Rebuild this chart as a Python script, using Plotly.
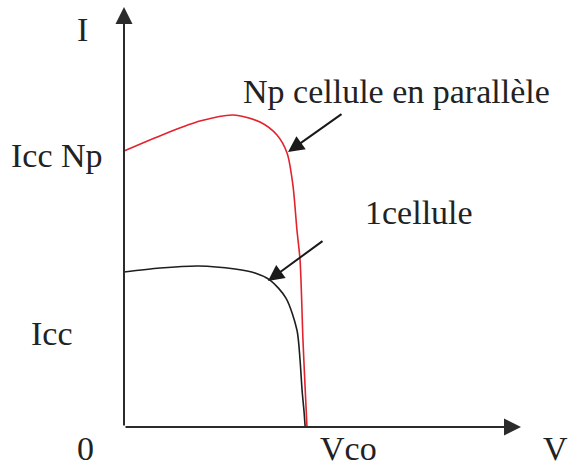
import plotly.graph_objects as go

W, H = 568, 468
# pixel origin of the drawn axes and scale (data units)
OX, OY = 124, 427
SX, SY = 183.0, 155.0

# ---- data (V normalised so Vco = 1, I normalised so Icc(1 cellule) = 1) ----
v_np = [0.0, 0.115, 0.235, 0.415, 0.596, 0.743, 0.836, 0.891, 0.923, 0.945, 0.962, 0.978, 0.989, 1.0]
i_np = [1.781, 1.839, 1.897, 1.974, 2.013, 1.968, 1.884, 1.768, 1.561, 1.271, 1.077, 0.561, 0.271, 0.0]

v_1 = [0.0, 0.197, 0.410, 0.607, 0.716, 0.798, 0.885, 0.945, 0.962, 0.973, 0.984, 0.990]
i_1 = [1.0, 1.026, 1.039, 1.019, 0.994, 0.948, 0.832, 0.626, 0.432, 0.239, 0.097, 0.0]

labels = ["I", "Icc Np", "Icc", "Np cellule en parallèle", "1cellule"]
label_px = [(82, 30), (57, 156), (52, 333), (396, 92), (419, 213)]
bottom_labels = ["0", "Vco", "V"]
bottom_x = [85, 348, 555]

x_range = [(0 - OX) / SX, (W - OX) / SX]
y_range = [(OY - H) / SY, OY / SY]

fig = go.Figure()
fig.add_trace(go.Scatter(x=v_np, y=i_np, mode="lines",
                         line=dict(color="#e2232e", width=1.6, shape="spline", smoothing=0.8),
                         hoverinfo="skip"))
fig.add_trace(go.Scatter(x=v_1, y=i_1, mode="lines",
                         line=dict(color="#1e1e1e", width=1.6, shape="spline", smoothing=0.8),
                         hoverinfo="skip"))

def dv(px):
    return (px - OX) / SX

def di(py):
    return (OY - py) / SY

FONT = dict(family="Liberation Serif", size=34, color="#222222")

ann = []
# axes with arrowheads
ann.append(dict(x=dv(521), y=0, ax=0, ay=0, axref="x", ayref="y", xref="x", yref="y",
                text="", showarrow=True, arrowhead=2, arrowsize=1.7, arrowwidth=2, arrowcolor="#2b2b2b",
                standoff=0))
ann.append(dict(x=0, y=di(7), ax=0, ay=0, axref="x", ayref="y", xref="x", yref="y",
                text="", showarrow=True, arrowhead=2, arrowsize=1.7, arrowwidth=2, arrowcolor="#2b2b2b",
                standoff=0))
# pointer arrows
ann.append(dict(x=dv(288), y=di(152), ax=dv(343), ay=di(113), axref="x", ayref="y", xref="x", yref="y",
                text="", showarrow=True, arrowhead=2, arrowsize=1.6, arrowwidth=2, arrowcolor="#1a1a1a"))
ann.append(dict(x=dv(268), y=di(281), ax=dv(324), ay=di(240), axref="x", ayref="y", xref="x", yref="y",
                text="", showarrow=True, arrowhead=2, arrowsize=1.6, arrowwidth=2, arrowcolor="#1a1a1a"))

for t, (px, py) in zip(labels, label_px):
    ann.append(dict(x=px / W, y=1 - py / H, xref="paper", yref="paper", text=t, showarrow=False,
                    xanchor="center", yanchor="middle", font=FONT))
for t, px in zip(bottom_labels, bottom_x):
    ann.append(dict(x=px / W, y=0, xref="paper", yref="paper", text=t, showarrow=False,
                    xanchor="center", yanchor="bottom", borderpad=0, font=FONT))

fig.update_layout(
    width=W, height=H, margin=dict(l=0, r=0, t=0, b=0),
    paper_bgcolor="white", plot_bgcolor="white", showlegend=False,
    xaxis=dict(range=x_range, visible=False, fixedrange=True),
    yaxis=dict(range=y_range, visible=False, fixedrange=True),
    annotations=ann,
)
fig.write_html("out.html", config={"displayModeBar": False},
               post_script="document.body.style.margin='0';document.body.style.padding='0';"
                           "document.body.style.overflow='hidden';")
